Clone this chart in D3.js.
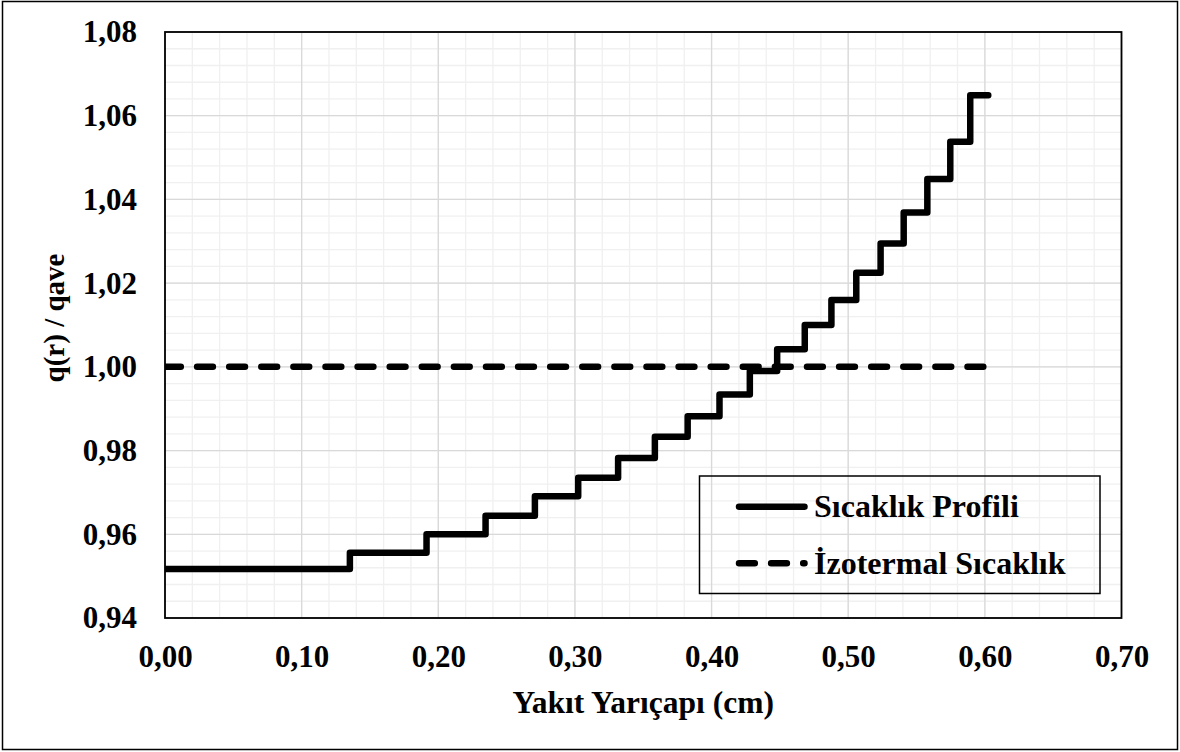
<!DOCTYPE html>
<meta charset="utf-8">
<style>
body {
  margin: 0;
  background: #fff;
}
svg text {
  font-family: "Liberation Serif", "Times New Roman", serif;
  font-weight: bold;
  fill: #000;
}
.grid-minor line { stroke: #f0f0f0; stroke-width: 1.3px; }
.grid-major line { stroke: #d9d9d9; stroke-width: 1.3px; }
.step { fill: none; stroke: #000; stroke-width: 6.5px; stroke-linejoin: round; stroke-linecap: round; }
.iso { fill: none; stroke: #000; stroke-width: 6.5px; stroke-linecap: round; stroke-dasharray: 15.8,16.3; }
</style>
<body>
<svg width="1180" height="752"></svg>
<script src="https://cdn.jsdelivr.net/npm/d3@7"></script>
<script>

// start radius of each ring (cm) and the normalised power density in it
var ringStart = [0, 0.1353, 0.1914, 0.2346, 0.2707, 0.3024, 0.3316, 0.3585, 0.3825, 0.4058,
                 0.4280, 0.4480, 0.4682, 0.4877, 0.5059, 0.5237, 0.5406, 0.5579, 0.5747, 0.5893];
var qProfile = [0.9517, 0.9556, 0.9600, 0.9644, 0.9691, 0.9735, 0.9782, 0.9833, 0.9882, 0.9934,
                0.9990, 1.0042, 1.0100, 1.0160, 1.0225, 1.0295, 1.0369, 1.0449, 1.0538, 1.0649];
var pelletRadius = 0.6025;

// isothermal case
var isoR = [0, 0.60];
var isoQ = [1.00, 1.00];

var xTicks = [0, 0.10, 0.20, 0.30, 0.40, 0.50, 0.60, 0.70];
var yTicks = [0.94, 0.96, 0.98, 1.00, 1.02, 1.04, 1.06, 1.08];
var seriesNames = ["Sıcaklık Profili", "İzotermal Sıcaklık"];

var svg = d3.select("svg"),
    width = +svg.attr("width"),
    height = +svg.attr("height"),
    plot = {left: 165, top: 32, right: 1121.5, bottom: 618};

var x = d3.scaleLinear().domain([0, 0.7]).range([plot.left, plot.right]),
    y = d3.scaleLinear().domain([0.94, 1.08]).range([plot.bottom, plot.top]);

var fmt = function(d) { return d.toFixed(2).replace(".", ","); };

// outer chart frame
svg.append("rect")
    .attr("x", 2.5).attr("y", 1.5)
    .attr("width", width - 5).attr("height", height - 4)
    .attr("fill", "#fff")
    .attr("stroke", "#000")
    .attr("stroke-width", 1.5);

// gridlines
var minorX = d3.range(0, 71, 2).map(function(v) { return v / 100; }),
    minorY = d3.range(940, 1081, 4).map(function(v) { return v / 1000; });

var gMinor = svg.append("g").attr("class", "grid-minor");
gMinor.selectAll(".vx").data(minorX).enter().append("line")
    .attr("x1", x).attr("x2", x).attr("y1", plot.top).attr("y2", plot.bottom);
gMinor.selectAll(".hy").data(minorY).enter().append("line")
    .attr("y1", y).attr("y2", y).attr("x1", plot.left).attr("x2", plot.right);

var gMajor = svg.append("g").attr("class", "grid-major");
gMajor.selectAll(".vx").data(xTicks).enter().append("line")
    .attr("x1", x).attr("x2", x).attr("y1", plot.top).attr("y2", plot.bottom);
gMajor.selectAll(".hy").data(yTicks).enter().append("line")
    .attr("y1", y).attr("y2", y).attr("x1", plot.left).attr("x2", plot.right);

// axes (labels only, the frame is drawn below)
svg.append("g")
    .attr("class", "axis axis--x")
    .attr("transform", "translate(0," + plot.bottom + ")")
    .call(d3.axisBottom(x).tickValues(xTicks).tickSize(0).tickPadding(27).tickFormat(fmt))
    .call(function(g) { g.select(".domain").remove(); });

svg.append("g")
    .attr("class", "axis axis--y")
    .attr("transform", "translate(" + plot.left + ",0)")
    .call(d3.axisLeft(y).tickValues(yTicks).tickSize(0).tickPadding(28).tickFormat(fmt))
    .call(function(g) { g.select(".domain").remove(); });

svg.selectAll(".axis text")
    .attr("fill", "#000")
    .style("font-family", "'Liberation Serif', 'Times New Roman', serif")
    .style("font-weight", "bold")
    .style("font-size", "31px");

// plot area border
svg.append("rect")
    .attr("x", plot.left).attr("y", plot.top)
    .attr("width", plot.right - plot.left).attr("height", plot.bottom - plot.top)
    .attr("fill", "none")
    .attr("stroke", "#000")
    .attr("stroke-width", 1.8);

// axis titles
svg.append("text")
    .attr("x", (plot.left + plot.right) / 2)
    .attr("y", 713)
    .attr("text-anchor", "middle")
    .style("font-size", "31.5px")
    .text("Yakıt Yarıçapı (cm)");

svg.append("text")
    .attr("transform", "translate(64,318) rotate(-90)")
    .attr("text-anchor", "middle")
    .style("font-size", "29px")
    .text("q(r) / qave");

// data
svg.append("clipPath").attr("id", "clip")
  .append("rect")
    .attr("x", plot.left).attr("y", plot.top)
    .attr("width", plot.right - plot.left).attr("height", plot.bottom - plot.top);

var stepPts = ringStart.map(function(r, i) { return [r, qProfile[i]]; });
stepPts.push([pelletRadius, qProfile[qProfile.length - 1]]);

var stepLine = d3.line()
    .curve(d3.curveStepAfter)
    .x(function(d) { return x(d[0]); })
    .y(function(d) { return y(d[1]); });

var straight = d3.line()
    .x(function(d) { return x(d[0]); })
    .y(function(d) { return y(d[1]); });

var gData = svg.append("g").attr("clip-path", "url(#clip)");

gData.append("path")
    .attr("class", "iso")
    .attr("d", straight(isoR.map(function(r, i) { return [r, isoQ[i]]; })));

gData.append("path")
    .attr("class", "step")
    .attr("d", stepLine(stepPts));

// legend
var legend = svg.append("g").attr("transform", "translate(699.5,476)");

legend.append("rect")
    .attr("width", 400.5).attr("height", 117.5)
    .attr("fill", "none")
    .attr("stroke", "#000")
    .attr("stroke-width", 1.5);

var items = legend.selectAll(".item")
    .data(seriesNames)
    .enter().append("g")
      .attr("class", "item")
      .attr("transform", function(d, i) { return "translate(0," + (30.7 + i * 56.6) + ")"; });

items.append("path")
    .attr("class", function(d, i) { return i === 0 ? "step" : "iso"; })
    .attr("d", "M39.5,0H105");

items.append("text")
    .attr("x", 114.5)
    .attr("dy", "0.33em")
    .style("font-size", "32px")
    .text(function(d) { return d; });

</script>
</body>
